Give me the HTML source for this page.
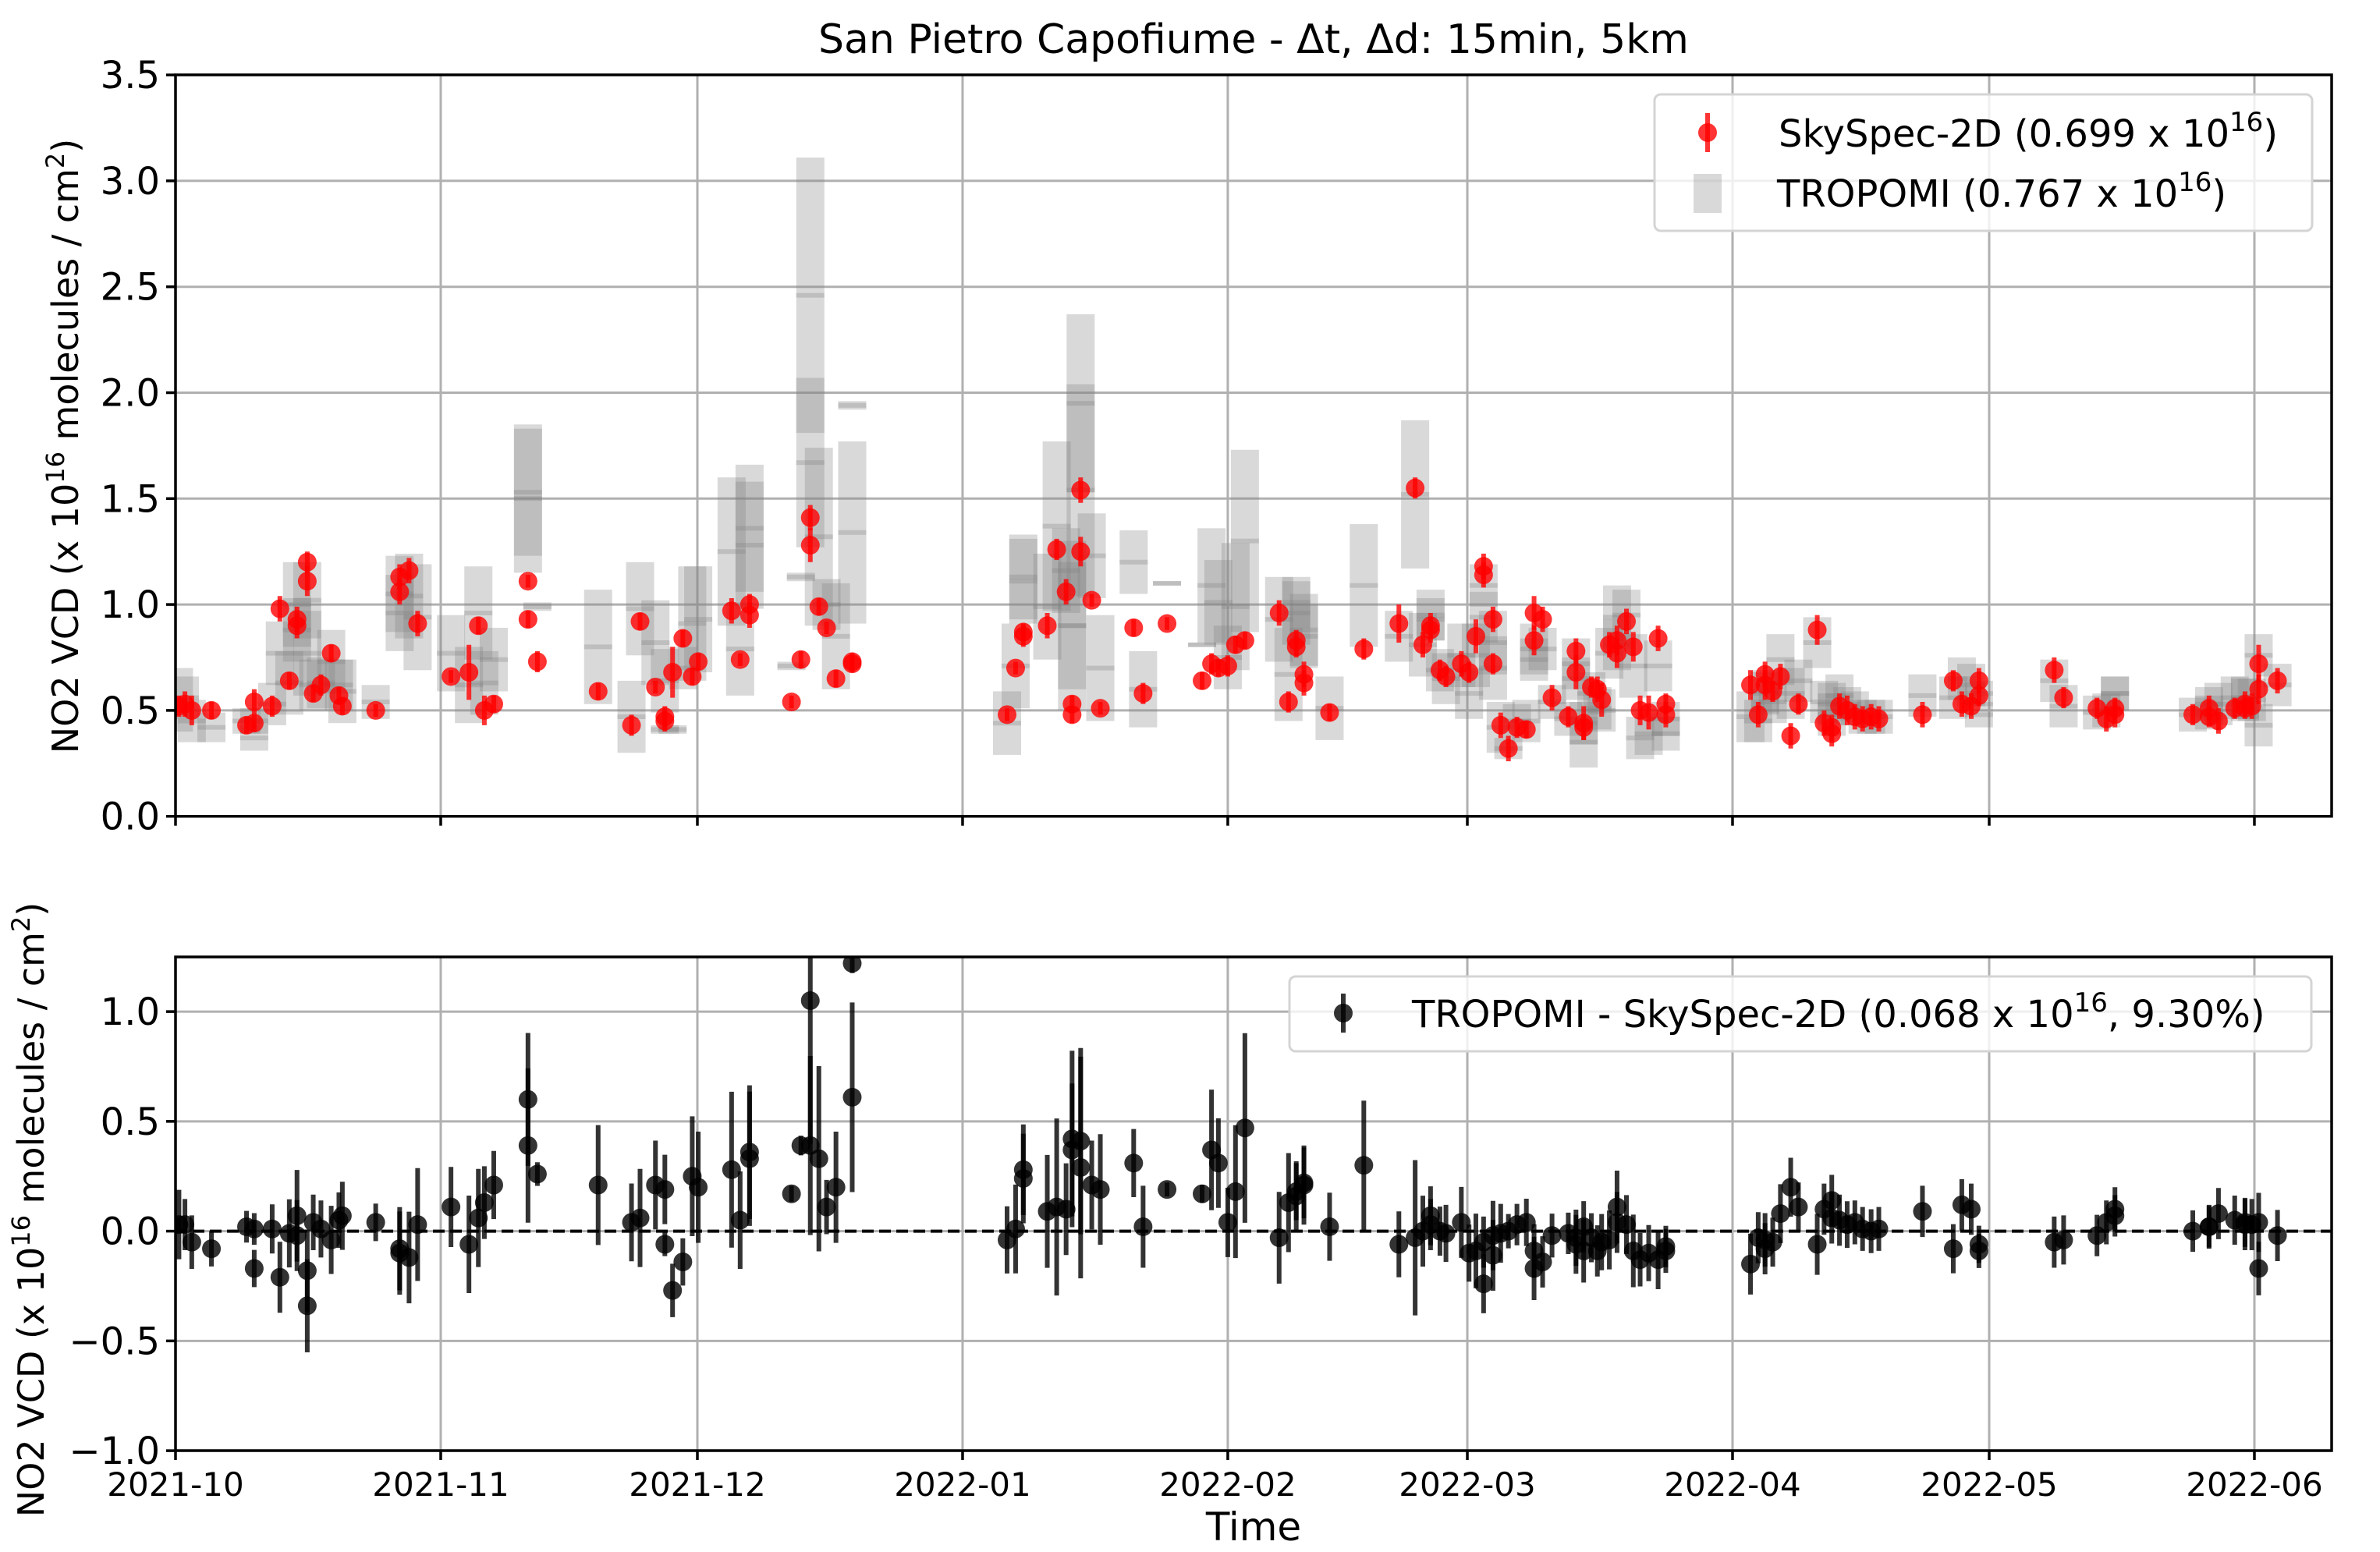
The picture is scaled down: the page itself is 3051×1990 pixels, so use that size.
<!DOCTYPE html>
<html><head><meta charset="utf-8"><style>
html,body{margin:0;padding:0;background:#fff}
svg{display:block}
text{font-family:"DejaVu Sans","Liberation Sans",sans-serif;fill:#000}
</style></head><body>
<svg id="chart" width="3051" height="1990" viewBox="0 0 3051 1990" xmlns="http://www.w3.org/2000/svg">
<defs>
<clipPath id="clipTop"><rect x="225" y="96" width="2764" height="951"/></clipPath>
<clipPath id="clipBot"><rect x="225" y="1227" width="2764" height="633"/></clipPath>
</defs>
<text x="1607" y="68" font-size="52" text-anchor="middle">San Pietro Capofiume - Δt, Δd: 15min, 5km</text>
<g id="topGrid"></g><g id="botGrid"></g>
<g id="topMarks" clip-path="url(#clipTop)"></g>
<g id="botMarks" clip-path="url(#clipBot)"></g>
<g id="axes"></g>
<text transform="translate(100,572) rotate(-90)" font-size="46" text-anchor="middle">NO2 VCD (x 10<tspan dy="-18" font-size="32">16</tspan><tspan dy="18"> molecules / cm</tspan><tspan dy="-18" font-size="32">2</tspan><tspan dy="18">)</tspan></text>
<text transform="translate(56,1551) rotate(-90)" font-size="46" text-anchor="middle">NO2 VCD (x 10<tspan dy="-18" font-size="32">16</tspan><tspan dy="18"> molecules / cm</tspan><tspan dy="-18" font-size="32">2</tspan><tspan dy="18">)</tspan></text>
<text x="1607" y="1975" font-size="50" text-anchor="middle">Time</text>
<g>
<rect x="2121" y="121" width="843" height="175" rx="8" fill="rgba(255,255,255,0.8)" stroke="#d4d4d4" stroke-width="3"/>
<line x1="2189" y1="145" x2="2189" y2="195" stroke="red" stroke-opacity="0.8" stroke-width="6"/>
<circle cx="2189" cy="170" r="12" fill="red" fill-opacity="0.8"/>
<rect x="2171" y="223" width="36" height="50" fill="#808080" fill-opacity="0.3"/>
<text x="2280" y="188" font-size="48">SkySpec-2D (0.699 x 10<tspan dy="-20" font-size="34">16</tspan><tspan dy="20">)</tspan></text>
<text x="2278" y="265" font-size="48">TROPOMI (0.767 x 10<tspan dy="-20" font-size="34">16</tspan><tspan dy="20">)</tspan></text>
</g>
<g>
<rect x="1653" y="1252" width="1310" height="96" rx="8" fill="rgba(255,255,255,0.8)" stroke="#d4d4d4" stroke-width="3"/>
<line x1="1722" y1="1274" x2="1722" y2="1324" stroke="#000" stroke-opacity="0.8" stroke-width="6"/>
<circle cx="1722" cy="1299" r="12" fill="#000" fill-opacity="0.8"/>
<text x="1810" y="1317" font-size="48">TROPOMI - SkySpec-2D (0.068 x 10<tspan dy="-20" font-size="34">16</tspan><tspan dy="20">, 9.30%)</tspan></text>
</g>
</svg>
<script>
// days since 2021-10-01
const days=[0.4,1.1,1.9,4.2,8.3,9.2,9.2,11.3,12.2,13.3,14.2,14.2,15.4,15.4,16.1,17.0,18.2,19.1,19.5,23.4,26.2,26.2,27.3,28.3,32.2,34.3,35.4,36.1,37.2,41.2,41.2,42.3,49.4,53.3,54.3,56.1,57.2,57.2,58.1,59.3,60.4,61.1,65.0,66.0,67.1,67.1,72.0,73.1,74.2,74.2,75.2,76.1,77.2,79.1,79.1,
97.2,98.2,99.1,99.1,101.9,103.0,104.1,104.8,104.8,105.8,105.8,107.1,108.1,112.0,113.1,115.9,120.0,121.1,121.9,123.0,123.9,125.0,129.0,130.1,131.0,131.0,131.9,131.9,134.9,138.9,143.0,144.9,145.8,146.7,146.7,147.8,148.5,150.3,151.2,152.0,152.9,152.9,154.0,154.0,154.9,155.8,156.8,157.9,158.8,158.8,159.8,160.9,162.8,163.7,163.7,164.6,164.6,165.5,166.2,166.7,167.6,168.5,168.5,169.6,170.4,171.2,172.2,173.3,174.2,174.2,
184.1,185.0,185.8,185.8,186.7,187.6,188.8,189.7,191.9,192.7,193.6,193.6,194.5,195.4,196.3,197.2,198.2,199.1,204.2,207.8,208.8,209.9,210.8,210.8,219.6,220.7,224.6,225.7,226.7,226.7,235.8,237.7,237.7,238.8,240.7,241.9,241.9,242.7,243.5,243.5,245.7];
const skyspec=[.52,.53,.50,.50,.43,.54,.44,.52,.98,.64,.93,.90,1.20,1.11,.58,.62,.77,.57,.52,.50,1.13,1.06,1.16,.91,.66,.68,.90,.50,.53,1.11,.93,.73,.59,.43,.92,.61,.47,.45,.68,.84,.66,.73,.97,.74,1.00,.95,.54,.74,1.41,1.28,.99,.89,.65,.72,.73,
.48,.70,.85,.87,.90,1.26,1.06,.48,.53,1.54,1.25,1.02,.51,.89,.58,.91,.64,.72,.70,.71,.81,.83,.96,.54,.83,.80,.67,.63,.49,.79,.91,1.55,.81,.88,.90,.69,.66,.72,.68,.85,1.18,1.14,.93,.72,.43,.32,.42,.41,.96,.83,.93,.56,.47,.78,.68,.44,.42,.61,.60,.55,.81,.83,.77,.92,.80,.50,.49,.84,.53,.48,
.62,.48,.67,.62,.59,.66,.38,.53,.88,.44,.39,.42,.52,.50,.47,.46,.47,.46,.48,.64,.53,.52,.64,.57,.69,.56,.51,.46,.51,.48,.48,.51,.47,.45,.51,.51,.53,.52,.60,.72,.64];
const skyspecErr=[.05,.06,.07,.04,.04,.06,.04,.05,.06,.04,.06,.06,.05,.07,.04,.05,.04,.04,.04,.03,.06,.06,.06,.06,.03,.13,.04,.07,.04,.03,.04,.05,.04,.05,.04,.03,.05,.05,.12,.04,.04,.04,.06,.03,.05,.06,.03,.04,.06,.08,.04,.03,.04,.04,.04,
.03,.03,.05,.04,.06,.05,.06,.04,.04,.06,.07,.03,.03,.04,.05,.03,.04,.05,.04,.05,.04,.04,.06,.05,.05,.05,.06,.06,.04,.05,.09,.05,.06,.06,.06,.05,.05,.06,.05,.08,.06,.06,.06,.05,.06,.06,.05,.04,.08,.07,.06,.06,.05,.06,.08,.08,.06,.05,.06,.08,.06,.07,.07,.06,.07,.07,.08,.06,.05,.06,
.07,.06,.06,.07,.05,.06,.06,.05,.07,.06,.06,.06,.06,.07,.06,.06,.06,.06,.06,.05,.06,.06,.06,.05,.06,.05,.05,.06,.05,.06,.05,.06,.05,.06,.05,.05,.06,.06,.07,.09,.06];
const tropomi=[.55,.56,.45,.42,.45,.37,.45,.53,.77,.63,1.00,.88,1.02,.77,.62,.63,.73,.62,.59,.54,1.05,.96,1.04,.94,.77,.62,.96,.63,.74,1.50,1.53,.99,.80,.47,.98,.82,.41,.64,.41,.70,.91,.93,1.25,.79,1.36,1.28,.71,1.13,2.46,1.67,1.32,1.00,.85,1.94,1.34,
.44,.71,1.13,1.11,.99,1.37,1.16,.90,.90,1.95,1.54,1.23,.70,1.20,.60,1.10,.81,1.09,1.01,.75,.99,1.30,.93,.67,1.01,.96,.88,.85,.51,1.09,.85,1.52,.81,.95,.93,.69,.65,.76,.58,.76,.94,1.09,.82,.70,.42,.32,.45,.45,.79,.74,.79,.54,.46,.72,.65,.35,.44,.58,.51,.50,.77,.94,.81,.95,.71,.37,.39,.71,.46,.39,
.47,.45,.59,.58,.54,.74,.58,.64,.82,.54,.53,.48,.57,.53,.51,.47,.47,.47,.57,.56,.65,.62,.58,.48,.64,.52,.49,.50,.58,.58,.48,.53,.49,.53,.56,.55,.56,.55,.43,.76,.62];
const tropomiErr=[.15,.10,.10,.07,.06,.06,.06,.10,.15,.15,.20,.15,.18,.20,.12,.12,.15,.12,.15,.08,.18,.18,.20,.25,.18,.18,.22,.15,.15,.35,.30,.02,.27,.17,.22,.20,.02,.15,.02,.10,.27,.25,.35,.22,.30,.30,.02,.02,.65,.40,.42,.12,.25,.02,.43,
.15,.20,.20,.20,.25,.40,.20,.40,.30,.42,.50,.20,.25,.15,.18,.01,.01,.27,.20,.15,.30,.43,.20,.22,.12,.15,.17,.15,.15,.29,.12,.35,.15,.12,.10,.10,.12,.15,.12,.15,.12,.10,.15,.15,.12,.05,.08,.10,.12,.10,.10,.08,.08,.12,.10,.12,.10,.10,.10,.10,.12,.15,.12,.12,.15,.10,.10,.12,.08,.08,
.12,.10,.10,.10,.10,.12,.12,.10,.12,.10,.10,.10,.10,.08,.08,.08,.08,.08,.10,.10,.10,.10,.06,.06,.10,.10,.08,.08,.08,.08,.08,.08,.08,.10,.10,.10,.10,.10,.10,.10,.10];
const monthTicks=[0,31,61,92,123,151,182,212,243];
const monthLabels=["2021-10","2021-11","2021-12","2022-01","2022-02","2022-03","2022-04","2022-05","2022-06"];
const topTicks=[0,0.5,1.0,1.5,2.0,2.5,3.0,3.5];
const topTickLabels=["0.0","0.5","1.0","1.5","2.0","2.5","3.0","3.5"];
const botTicks=[-1.0,-0.5,0,0.5,1.0];
const botTickLabels=["\u22121.0","\u22120.5","0.0","0.5","1.0"];

const NS="http://www.w3.org/2000/svg";
const X0=225,X1=2989,DPX=10.967;
const xS=d=>X0+d*DPX;
const yT=v=>1046.7-v*271.6;
const yB=v=>1578.6-v*281.5;
function mk(tag,attrs,parent){const e=document.createElementNS(NS,tag);for(const k in attrs)e.setAttribute(k,attrs[k]);parent.appendChild(e);return e;}
const topGrid=document.getElementById('topGrid'),botGrid=document.getElementById('botGrid');
const topMarks=document.getElementById('topMarks'),botMarks=document.getElementById('botMarks');
const axes=document.getElementById('axes');

monthTicks.forEach((d,i)=>{
  let g=mk('line',{x1:xS(d),x2:xS(d),y1:96,y2:1046.7,stroke:'#b0b0b0','stroke-width':3},topGrid);
  
  
  g=mk('line',{x1:xS(d),x2:xS(d),y1:1227,y2:1860,stroke:'#b0b0b0','stroke-width':3},botGrid);
  
  
});
topTicks.forEach(v=>{
  const g=mk('line',{x1:X0,x2:X1,y1:yT(v),y2:yT(v),stroke:'#b0b0b0','stroke-width':3},topGrid);
  
  
});
botTicks.forEach(v=>{
  const g=mk('line',{x1:X0,x2:X1,y1:yB(v),y2:yB(v),stroke:'#b0b0b0','stroke-width':3},botGrid);
  
  
});

days.forEach((d,i)=>{
  const x=xS(d),t=tropomi[i],e=tropomiErr[i];
  const r=mk('rect',{x:x-18,y:yT(t+e),width:36,height:Math.max(yT(t-e)-yT(t+e),2),fill:'#808080','fill-opacity':0.3},topMarks);
  
  
  const l=mk('line',{x1:x-18,x2:x+18,y1:yT(t),y2:yT(t),stroke:'#808080','stroke-opacity':0.3,'stroke-width':6},topMarks);
  
  
});
days.forEach((d,i)=>{
  const x=xS(d),s=skyspec[i],e=skyspecErr[i];
  const l=mk('line',{x1:x,x2:x,y1:yT(s+e),y2:yT(s-e),stroke:'red','stroke-opacity':0.8,'stroke-width':6},topMarks);
  
  
  const c=mk('circle',{cx:x,cy:yT(s),r:12,fill:'red','fill-opacity':0.8},topMarks);
  
  
});
const zl=mk('line',{x1:X0,x2:X1,y1:yB(0),y2:yB(0),stroke:'#000','stroke-width':4,'stroke-dasharray':'15 7'},botMarks);


days.forEach((d,i)=>{
  const x=xS(d),v=tropomi[i]-skyspec[i];
  const e=Math.sqrt(tropomiErr[i]**2+skyspecErr[i]**2);
  const l=mk('line',{x1:x,x2:x,y1:yB(v+e),y2:yB(v-e),stroke:'#000','stroke-opacity':0.8,'stroke-width':6},botMarks);
  
  
  const c=mk('circle',{cx:x,cy:yB(v),r:12,fill:'#000','fill-opacity':0.8},botMarks);
  
  
});

[[96,1046.7,'top-axes-frame'],[1227,1860,'bottom-axes-frame']].forEach(a=>{
  const r=mk('rect',{x:X0,y:a[0],width:X1-X0,height:a[1]-a[0],fill:'none',stroke:'#000','stroke-width':3.5},axes);
  
  
});
monthTicks.forEach((d,i)=>{
  const x=xS(d);
  let t=mk('line',{x1:x,x2:x,y1:1046.7,y2:1058.7,stroke:'#000','stroke-width':3.5},axes);
  
  
  t=mk('line',{x1:x,x2:x,y1:1860,y2:1872,stroke:'#000','stroke-width':3.5},axes);
  
  
  const tx=mk('text',{x:x,y:1918,'font-size':42,'text-anchor':'middle'},axes);
  tx.textContent=monthLabels[i];
  
  
});
topTicks.forEach((v,i)=>{
  const y=yT(v);
  const t=mk('line',{x1:X0-12,x2:X0,y1:y,y2:y,stroke:'#000','stroke-width':3.5},axes);
  
  
  const tx=mk('text',{x:X0-20,y:y+17,'font-size':48,'text-anchor':'end'},axes);
  tx.textContent=topTickLabels[i];
  
  
});
botTicks.forEach((v,i)=>{
  const y=yB(v);
  const t=mk('line',{x1:X0-12,x2:X0,y1:y,y2:y,stroke:'#000','stroke-width':3.5},axes);
  
  
  const tx=mk('text',{x:X0-20,y:y+17,'font-size':48,'text-anchor':'end'},axes);
  tx.textContent=botTickLabels[i];
  
  
});
</script>
</body></html>
